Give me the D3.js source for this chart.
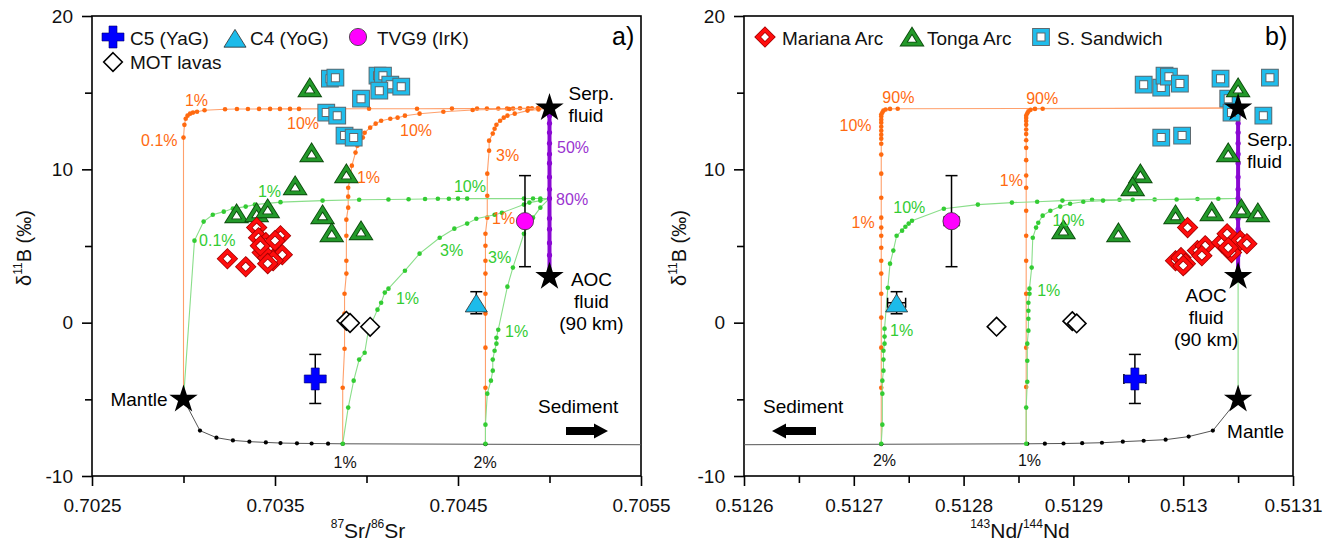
<!DOCTYPE html>
<html>
<head>
<meta charset="utf-8">
<title>δ11B versus 87Sr/86Sr and 143Nd/144Nd</title>
<script src="https://cdn.jsdelivr.net/npm/d3@7/dist/d3.min.js"></script>
<style>
  html, body { margin: 0; padding: 0; background: #fff; }
  svg { display: block; }
</style>
</head>
<body>
<svg id="fig" width="1335" height="543"></svg>
<script>
// ---------- Axis ticks ----------
const b11Domain = [-10, 20];
const yMajor = [-10, 0, 10, 20];
const yMajorLabels = ["-10", "0", "10", "20"];
const yMinor = [-5, 5, 15];
const srDomain = [0.7025, 0.7055];
const srMajor = [0.7025, 0.7035, 0.7045, 0.7055];
const srMajorLabels = ["0.7025", "0.7035", "0.7045", "0.7055"];
const srMinor = [0.7030, 0.7040, 0.7050];
const ndDomain = [0.5126, 0.5131];
const ndMajor = [0.5126, 0.5127, 0.5128, 0.5129, 0.5130, 0.5131];
const ndMajorLabels = ["0.5126", "0.5127", "0.5128", "0.5129", "0.513", "0.5131"];
const ndMinor = [0.51265, 0.51275, 0.51285, 0.51295, 0.51305];

// ---------- End-members [ratio, δ11B] ----------
const srMantle = [0.7030, -5], srSerp = [0.7050, 14], srAoc = [0.7050, 3];
const ndMantle = [0.51305, -5], ndSerp = [0.51305, 14], ndAoc = [0.51305, 3];
// δ11B steps along the serpentinite fluid – AOC fluid mixing line
const fluidMixB11 = [14, 13.5, 13.0, 12.4, 11.7, 11.0, 10.4, 9.5, 8.7, 8.1, 6.8, 6.1, 5.2, 4.4, 3];

// ---------- Mixing curves, Sr panel ----------
const srSediment = [[0.7030,-5],[0.70309,-7.04],[0.70318,-7.5],[0.70327,-7.68],[0.70336,-7.76],[0.70345,-7.81],[0.70353,-7.85],[0.70362,-7.87],[0.7037,-7.88],[0.70379,-7.89],[0.70387,-7.9],[0.70465,-7.93],[0.7055,-7.96]];
const srSerpMantle = [[0.7030,-5],[0.7030,12.07],[0.703005,12.9],[0.703012,13.3],[0.703022,13.5],[0.703036,13.63],[0.703052,13.7],[0.703074,13.76],[0.703115,13.85],[0.703227,13.92],[0.703292,13.93],[0.703352,13.93],[0.703413,13.94],[0.703473,13.94],[0.703527,13.94],[0.703582,13.94],[0.703631,13.94],[0.704014,13.95],[0.704276,13.95],[0.704467,13.96],[0.704604,13.96],[0.704658,13.96],[0.70472,13.97],[0.704768,13.97],[0.704801,13.97],[0.704839,13.98],[0.704883,13.98],[0.704904,13.98],[0.704937,13.99],[0.7050,14]];
const srSerpSed1 = [[0.70387,-7.9],[0.70387,-4.24],[0.70388,-1.70],[0.70388,0.59],[0.70388,1.89],[0.70389,3.20],[0.70389,4.04],[0.70389,5.67],[0.70389,6.72],[0.7039,7.50],[0.7039,8.22],[0.7039,8.80],[0.70391,9.39],[0.70392,10.24],[0.70394,11.09],[0.70395,11.54],[0.70398,12.07],[0.70399,12.39],[0.70402,12.72],[0.70405,12.98],[0.70408,13.17],[0.70413,13.30],[0.70417,13.37],[0.70421,13.50],[0.70429,13.63],[0.70442,13.76],[0.70458,13.87],[0.70478,13.93],[0.7050,14]];
const srSerpSed2 = [[0.70465,-7.9],[0.70465,-4.24],[0.70465,-1.63],[0.70465,0.59],[0.70465,1.89],[0.70465,3.20],[0.70465,4.04],[0.70465,5.02],[0.70465,5.80],[0.70466,6.85],[0.70466,8.28],[0.70466,9.72],[0.70467,11.22],[0.70467,11.87],[0.70469,12.33],[0.7047,12.65],[0.70471,12.91],[0.70473,13.17],[0.70475,13.37],[0.70477,13.5],[0.70481,13.63],[0.70488,13.83],[0.70494,13.9],[0.7050,14]];
const srAocMantle = [[0.7030,-5],[0.70306,5.35],[0.70311,6.59],[0.70316,7.04],[0.70322,7.24],[0.70327,7.44],[0.70334,7.57],[0.70339,7.7],[0.70353,7.86],[0.70376,7.96],[0.70396,8.02],[0.70412,8.03],[0.70423,8.05],[0.70432,8.07],[0.70439,8.08],[0.70445,8.08],[0.7045,8.09],[0.70455,8.09],[0.70486,8.09],[0.70491,8.1],[0.70495,8.1],[0.7050,8.1]];
const srAocSed1 = [[0.70387,-7.9],[0.7039,-5.54],[0.70393,-3.78],[0.70396,-2.41],[0.70399,-1.96],[0.70401,-0.52],[0.70406,0.85],[0.70408,1.3],[0.7041,1.96],[0.70412,2.22],[0.70421,3.39],[0.70429,4.5],[0.7044,5.54],[0.70448,6.13],[0.70455,6.46],[0.7046,6.78],[0.7047,7.04],[0.70474,7.17],[0.70486,7.70],[0.70489,7.83],[0.70495,7.96],[0.7050,8.1]];
const srAocSed2 = [[0.70465,-7.9],[0.70465,-6.65],[0.70466,-4.63],[0.70468,-3.78],[0.70469,-3.13],[0.70469,-2.41],[0.7047,-1.83],[0.70471,-1.37],[0.70471,-0.98],[0.70472,-0.46],[0.70477,2.35],[0.7048,3.59],[0.70486,5.80],[0.70491,6.85],[0.70495,7.5],[0.7050,8.1]];

// ---------- Mixing curves, Nd panel ----------
const ndSediment = [[0.51305,-5],[0.513027,-7.04],[0.513005,-7.43],[0.512984,-7.63],[0.512964,-7.70],[0.512945,-7.76],[0.512926,-7.83],[0.512908,-7.86],[0.512891,-7.88],[0.512874,-7.89],[0.512858,-7.9],[0.512725,-7.93],[0.5126,-7.96]];
const ndSerpSed2 = [[0.512725,-7.9],[0.512725,-4.24],[0.512725,-1.63],[0.512725,0.33],[0.512725,1.89],[0.512725,3.2],[0.512725,4.04],[0.512725,4.89],[0.512725,5.67],[0.512725,6.2],[0.512725,6.85],[0.512725,8.15],[0.512725,9.72],[0.512725,10.96],[0.512725,11.67],[0.512725,12.0],[0.512725,12.26],[0.512725,12.52],[0.512725,12.78],[0.512725,13.04],[0.512725,13.24],[0.512725,13.44],[0.512725,13.57],[0.512726,13.7],[0.512727,13.83],[0.512729,13.9],[0.512733,13.94],[0.51274,13.95],[0.51305,14]];
const ndSerpSed1 = [[0.512857,-7.9],[0.512857,-4.2],[0.512857,-1.63],[0.512857,1.89],[0.512857,4.04],[0.512857,5.67],[0.512857,7.3],[0.512857,8.8],[0.512857,9.6],[0.512857,10.6],[0.512857,11.4],[0.512857,11.9],[0.512857,12.3],[0.512857,12.6],[0.512857,12.9],[0.512857,13.15],[0.512857,13.35],[0.512857,13.5],[0.512858,13.65],[0.512859,13.78],[0.512861,13.88],[0.512865,13.94],[0.512872,13.95],[0.51305,14]];
const ndAocMantle = [[0.51305,-5],[0.51305,8.1]];
const ndAocSed2 = [[0.512725,-7.9],[0.512726,-6.65],[0.512726,-4.63],[0.512726,-3.78],[0.512727,-3.13],[0.512727,-2.41],[0.512727,-1.83],[0.512728,-1.37],[0.512728,-0.91],[0.512728,-0.39],[0.512731,2.28],[0.512733,3.85],[0.512736,4.7],[0.512739,5.67],[0.512744,6.0],[0.512747,6.26],[0.51275,6.46],[0.512753,6.65],[0.512782,7.43],[0.512813,7.7],[0.512844,7.83],[0.512867,7.89],[0.51289,7.96],[0.512917,8.02],[0.512942,8.02],[0.512974,8.03],[0.513013,8.07],[0.51305,8.1]];
const ndAocSed1 = [[0.512857,-7.9],[0.512857,-5.54],[0.512858,-3.85],[0.512858,-2.48],[0.512858,-1.37],[0.512859,-0.52],[0.512859,0.26],[0.512859,0.78],[0.512859,1.3],[0.51286,1.89],[0.51286,2.22],[0.512862,3.59],[0.512863,5.54],[0.512866,6.2],[0.512868,6.52],[0.512872,6.98],[0.512879,7.3],[0.512888,7.57],[0.512897,7.76],[0.512909,7.89],[0.512927,7.96],[0.512954,8.02],[0.512994,8.03],[0.513032,8.08],[0.51305,8.1]];

// ---------- Mixing fraction labels [text, ratio, δ11B] ----------
const srOrangeLabels = [["1%",0.703008,14.48],["0.1%",0.702768,11.87],["10%",0.703566,12.98],["10%",0.704183,12.52],["1%",0.703948,9.46],["3%",0.704708,10.89],["1%",0.704686,6.78]];
const srGreenLabels = [["1%",0.703407,8.54],["0.1%",0.703085,5.35],["10%",0.704478,8.93],["3%",0.704402,4.70],["1%",0.704161,1.57],["3%",0.704664,4.24],["1%",0.704757,-0.59]];
const srPurpleLabels = [["50%",0.705041,11.41],["80%",0.705036,8.02]];
const srSedLabels = [["1%",0.703883,-9.13],["2%",0.704648,-9.13]];
const ndOrangeLabels = [["90%",0.512726,14.67],["10%",0.512687,12.85],["1%",0.512698,6.52],["90%",0.512857,14.61],["1%",0.512833,9.26]];
const ndGreenLabels = [["10%",0.512736,7.5],["1%",0.512733,-0.52],["10%",0.512881,6.65],["1%",0.512867,2.09]];
const ndSedLabels = [["2%",0.512728,-9.0],["1%",0.51286,-9.0]];

// ---------- Samples [ratio, δ11B] ----------
const tongaSr = [[0.70369,15.26],[0.70370,11.02],[0.70361,8.87],[0.70389,9.65],[0.70329,7.04],[0.70340,7.11],[0.70346,7.37],[0.70376,6.98],[0.70381,5.80],[0.70397,5.93]];
const marianaSr = [[0.70324,4.17],[0.70334,3.65],[0.70340,6.20],[0.70341,5.54],[0.70353,5.67],[0.70345,5.22],[0.70347,4.89],[0.70354,4.43],[0.70343,4.57],[0.70346,4.24],[0.70349,4.04],[0.70346,3.85],[0.70342,5.02],[0.70350,5.35]];
const sandwichSr = [[0.70380,15.91],[0.70383,15.98],[0.70406,16.11],[0.70409,16.11],[0.70413,15.52],[0.70419,15.39],[0.70407,15.13],[0.70397,14.61],[0.70378,13.70],[0.70384,13.50],[0.70388,12.20],[0.70393,12.07]];
const motSr = [[0.70389,0.12],[0.70391,-0.02],[0.70402,-0.27]];
const tongaNd = [[0.51305,15.26],[0.513041,11.02],[0.512961,9.65],[0.512954,8.80],[0.512993,6.98],[0.513026,7.17],[0.513053,7.37],[0.513068,7.11],[0.512891,6.0],[0.512941,5.80]];
const marianaNd = [[0.513004,6.2],[0.512993,4.04],[0.512998,4.24],[0.513002,3.85],[0.513013,4.70],[0.51302,5.02],[0.513017,4.37],[0.513035,5.22],[0.51304,5.80],[0.513044,4.57],[0.513052,5.35],[0.513058,5.15],[0.513041,4.89],[0.513,3.72]];
const sandwichNd = [[0.512964,15.52],[0.51298,15.33],[0.512983,16.11],[0.512987,16.04],[0.512997,15.59],[0.513034,15.91],[0.513041,14.61],[0.513044,13.70],[0.513073,13.50],[0.513079,15.98],[0.51298,12.07],[0.512999,12.20]];
const motNd = [[0.51283,-0.26],[0.512899,0.1],[0.512903,-0.05]];

// Guatemalan samples: [87Sr/86Sr, 143Nd/144Nd, δ11B] and errors [Sr, Nd, δ11B]
const c5Point = [0.70372, 0.512956, -3.67], c5Err = [0, 0.000010, 1.6];
const c4Point = [0.70460, 0.512739, 1.3], c4Err = [0, 0.0000082, 0.72];
const tvg9Point = [0.704866, 0.512789, 6.62], tvg9Err = [0, 0.0000067, 2.97];

// ---------- Drawing ----------
const FONT = 'Arial, "Liberation Sans", Helvetica, sans-serif';
const ORANGE_LINE = "#ffa06c", ORANGE = "#ff6a10";
const GREEN_LINE = "#8ade8a", GREEN = "#33cc33";
const PURPLE = "#8a08d2", PURPLE_TXT = "#9a33d0";
const svg = d3.select("#fig").style("font-family", FONT);
const plotTop = 16, plotBottom = 476;

function makePanel(domain, range, major, majorLabels, minor) {
  const x = d3.scaleLinear().domain(domain).range(range);
  const y = d3.scaleLinear().domain(b11Domain).range([plotBottom, plotTop]);
  const g = svg.append("g");
  const axes = g.append("g");
  axes.append("g").attr("transform", `translate(0,${plotBottom})`)
    .call(d3.axisBottom(x).tickValues(major).tickSize(10).tickSizeOuter(0).tickPadding(13)
      .tickFormat((d, i) => majorLabels[i]));
  axes.append("g").attr("transform", `translate(0,${plotBottom})`)
    .call(d3.axisBottom(x).tickValues(minor).tickSize(7).tickSizeOuter(0).tickFormat(""));
  axes.append("g").attr("transform", `translate(${range[0]},0)`)
    .call(d3.axisLeft(y).tickValues(yMajor).tickSize(10).tickSizeOuter(0).tickPadding(9)
      .tickFormat((d, i) => yMajorLabels[i]));
  axes.append("g").attr("transform", `translate(${range[0]},0)`)
    .call(d3.axisLeft(y).tickValues(yMinor).tickSize(7).tickSizeOuter(0).tickFormat(""));
  axes.selectAll(".domain").remove();
  axes.selectAll(".tick line").attr("stroke", "#000").attr("stroke-width", 1.6);
  axes.selectAll(".tick text").attr("font-size", 19).attr("font-family", FONT).attr("fill", "#111");
  g.append("rect").attr("x", range[0]).attr("y", plotTop)
    .attr("width", range[1] - range[0]).attr("height", plotBottom - plotTop)
    .attr("fill", "none").attr("stroke", "#000").attr("stroke-width", 1.6);
  const plot = g.append("g");
  return { g, plot, x, y };
}

function curve(p, pts, lineColor, dotColor, firstDot, lastDot, r = 2.3, width = 1.1) {
  const line = d3.line().x(d => p.x(d[0])).y(d => p.y(d[1]));
  p.plot.append("path").datum(pts).attr("d", line)
    .attr("fill", "none").attr("stroke", lineColor).attr("stroke-width", width);
  const dots = pts.slice(firstDot ? 0 : 1, lastDot ? pts.length : pts.length - 1);
  p.plot.append("g").selectAll("circle").data(dots).join("circle")
    .attr("cx", d => p.x(d[0])).attr("cy", d => p.y(d[1])).attr("r", r).attr("fill", dotColor);
}

const shape = {
  tri: s => `M0,${-s}L${1.15 * s},${0.85 * s}L${-1.15 * s},${0.85 * s}Z`,
  diamond: s => `M0,${-s}L${s},0L0,${s}L${-s},0Z`,
  square: s => `M${-s},${-s}H${s}V${s}H${-s}Z`,
  cross: (a, b) => `M${-b},${-a}H${b}V${-b}H${a}V${b}H${b}V${a}H${-b}V${b}H${-a}V${-b}H${-b}Z`
};

// Layered outline markers (dark rim + coloured stroke + white fill)
function outlined(sel, d, rim, col, wRim, wCol) {
  sel.append("path").attr("d", d).attr("fill", "#fff").attr("stroke", rim).attr("stroke-width", wRim).attr("stroke-linejoin", "miter");
  sel.append("path").attr("d", d).attr("fill", "none").attr("stroke", col).attr("stroke-width", wCol).attr("stroke-linejoin", "miter");
}
const marker = {
  tonga: sel => outlined(sel, shape.tri(7.2), "#0c4a0c", "#23992a", 4.8, 3.0),
  mariana: sel => outlined(sel, shape.diamond(7.4), "#a00000", "#ff0d0d", 4.8, 3.3),
  sandwich: sel => outlined(sel, shape.square(6.2), "#5d6a70", "#1fbdec", 5.4, 3.4),
  mot: sel => sel.append("path").attr("d", shape.diamond(9.3)).attr("fill", "#fff").attr("stroke", "#000").attr("stroke-width", 1.6),
  c5: sel => sel.append("path").attr("d", shape.cross(11, 4)).attr("fill", "#0000ff").attr("stroke", "#00006a").attr("stroke-width", 0.6),
  c4: sel => sel.append("path").attr("d", shape.tri(9.6)).attr("transform", "translate(0,1)").attr("fill", "#1cbbea").attr("stroke", "#2a2a2a").attr("stroke-width", 0.8),
  tvg9: sel => sel.append("circle").attr("r", 8.6).attr("fill", "#ff00ff").attr("stroke", "#333").attr("stroke-width", 0.8),
  star: sel => sel.append("path").attr("d", d3.symbol(d3.symbolStar, 250)()).attr("fill", "#000")
};

function scatter(p, data, draw) {
  p.plot.append("g").selectAll("g").data(data).join("g")
    .attr("transform", d => `translate(${p.x(d[0])},${p.y(d[1])})`)
    .each(function () { draw(d3.select(this)); });
}

function errorBars(p, xv, yv, xe, ye) {
  const g = p.plot.append("g").attr("stroke", "#000").attr("stroke-width", 1.5);
  const cx = p.x(xv), cy = p.y(yv);
  if (ye) {
    const y0 = p.y(yv + ye), y1 = p.y(yv - ye);
    g.append("line").attr("x1", cx).attr("x2", cx).attr("y1", y0).attr("y2", y1);
    g.append("line").attr("x1", cx - 6).attr("x2", cx + 6).attr("y1", y0).attr("y2", y0);
    g.append("line").attr("x1", cx - 6).attr("x2", cx + 6).attr("y1", y1).attr("y2", y1);
  }
  if (xe) {
    const x0 = p.x(xv - xe), x1 = p.x(xv + xe);
    g.append("line").attr("x1", x0).attr("x2", x1).attr("y1", cy).attr("y2", cy);
    g.append("line").attr("x1", x0).attr("x2", x0).attr("y1", cy - 5).attr("y2", cy + 5);
    g.append("line").attr("x1", x1).attr("x2", x1).attr("y1", cy - 5).attr("y2", cy + 5);
  }
}

function labels(p, list, color, anchor = "start", size = 16) {
  p.plot.append("g").selectAll("text").data(list).join("text")
    .attr("x", d => p.x(d[1])).attr("y", d => p.y(d[2])).attr("dy", "0.36em")
    .attr("text-anchor", anchor).attr("font-size", size).attr("fill", color).text(d => d[0]);
}

function text(p, str, x, y, anchor = "start", size = 19) {
  p.plot.append("text").attr("x", x).attr("y", y).attr("text-anchor", anchor)
    .attr("font-size", size).attr("fill", "#000").text(str);
}

function arrow(p, xTail, xTip, yc) {
  const dir = Math.sign(xTip - xTail), neck = xTip - dir * 14;
  p.plot.append("path")
    .attr("d", `M${xTail},${yc - 4}L${neck},${yc - 4}L${neck},${yc - 7.5}L${xTip},${yc}L${neck},${yc + 7.5}L${neck},${yc + 4}L${xTail},${yc + 4}Z`)
    .attr("fill", "#000");
}

function yTitle(cx, cy) {
  const t = svg.append("text").attr("transform", `translate(${cx},${cy}) rotate(-90)`)
    .attr("text-anchor", "middle").attr("font-size", 20).attr("fill", "#111");
  t.append("tspan").text("δ");
  t.append("tspan").attr("font-size", 12).attr("dy", -9).text("11");
  t.append("tspan").attr("dy", 9).text("B (‰)");
}

function xTitle(cx, cy, a, b, c, d) {
  const t = svg.append("text").attr("x", cx).attr("y", cy).attr("text-anchor", "middle")
    .attr("font-size", 21).attr("fill", "#111");
  t.append("tspan").attr("font-size", 12).attr("dy", -10).text(a);
  t.append("tspan").attr("dy", 10).text(b);
  t.append("tspan").attr("font-size", 12).attr("dy", -10).text(c);
  t.append("tspan").attr("dy", 10).text(d);
}

// ================= Panel a: 87Sr/86Sr =================
const pa = makePanel(srDomain, [92, 641], srMajor, srMajorLabels, srMinor);
curve(pa, srSediment, "#555", "#000", false, false, 2.1, 1);
curve(pa, srSerpMantle, ORANGE_LINE, ORANGE, false, false);
curve(pa, srSerpSed1, ORANGE_LINE, ORANGE, false, false);
curve(pa, srSerpSed2, ORANGE_LINE, ORANGE, false, false);
curve(pa, srAocMantle, GREEN_LINE, GREEN, false, false);
curve(pa, srAocSed1, GREEN_LINE, GREEN, true, false);
curve(pa, srAocSed2, GREEN_LINE, GREEN, true, false);
curve(pa, fluidMixB11.map(v => [srSerp[0], v]), PURPLE, PURPLE, false, false, 2.6, 4);
scatter(pa, sandwichSr, marker.sandwich);
scatter(pa, tongaSr, marker.tonga);
scatter(pa, marianaSr, marker.mariana);
scatter(pa, motSr, marker.mot);
errorBars(pa, c5Point[0], c5Point[2], c5Err[0], c5Err[2]);
scatter(pa, [[c5Point[0], c5Point[2]]], marker.c5);
errorBars(pa, c4Point[0], c4Point[2], c4Err[0], c4Err[2]);
scatter(pa, [[c4Point[0], c4Point[2]]], marker.c4);
errorBars(pa, tvg9Point[0], tvg9Point[2], tvg9Err[0], tvg9Err[2]);
scatter(pa, [[tvg9Point[0], tvg9Point[2]]], marker.tvg9);
scatter(pa, [srMantle, srSerp, srAoc], marker.star);
labels(pa, srOrangeLabels, ORANGE);
labels(pa, srGreenLabels, GREEN);
labels(pa, srPurpleLabels, PURPLE_TXT);
labels(pa, srSedLabels, "#111", "middle");
{
  const mx = pa.x(srMantle[0]), my = pa.y(srMantle[1]);
  text(pa, "Mantle", mx - 16, my + 7, "end");
  const sx = pa.x(srSerp[0]), sy = pa.y(srSerp[1]);
  text(pa, "Serp.", sx + 19, sy - 8);
  text(pa, "fluid", sx + 19, sy + 14);
  const ax = pa.x(srAoc[0]), ay = pa.y(srAoc[1]);
  text(pa, "AOC", ax + 42, ay + 9, "middle");
  text(pa, "fluid", ax + 42, ay + 31, "middle");
  text(pa, "(90 km)", ax + 42, ay + 53, "middle");
  text(pa, "Sediment", 538, 413);
  arrow(pa, 566, 608, 431);
  text(pa, "a)", 612, 45, "start", 25);
}
// legend a
{
  const lg = svg.append("g");
  const put = (x, y, draw) => draw(lg.append("g").attr("transform", `translate(${x},${y})`));
  put(113, 37, marker.c5);
  put(235, 38, marker.c4);
  put(358, 37, marker.tvg9);
  put(113, 62, marker.mot);
  [["C5 (YaG)", 130, 45], ["C4 (YoG)", 250, 45], ["TVG9 (IrK)", 377, 45], ["MOT lavas", 130, 69]]
    .forEach(d => lg.append("text").attr("x", d[1]).attr("y", d[2]).attr("font-size", 19).attr("fill", "#111").text(d[0]));
}
yTitle(31, 248);
xTitle(368, 538, "87", "Sr/", "86", "Sr");

// ================= Panel b: 143Nd/144Nd =================
const pb = makePanel(ndDomain, [744, 1293], ndMajor, ndMajorLabels, ndMinor);
curve(pb, ndSediment, "#555", "#000", false, false, 2.1, 1);
curve(pb, ndSerpSed2, ORANGE_LINE, ORANGE, false, false);
curve(pb, ndSerpSed1, ORANGE_LINE, ORANGE, false, false);
curve(pb, ndAocMantle, GREEN_LINE, GREEN, false, false);
curve(pb, ndAocSed2, GREEN_LINE, GREEN, true, false);
curve(pb, ndAocSed1, GREEN_LINE, GREEN, true, false);
curve(pb, fluidMixB11.map(v => [ndSerp[0], v]), PURPLE, PURPLE, false, false, 2.6, 4);
scatter(pb, sandwichNd, marker.sandwich);
scatter(pb, tongaNd, marker.tonga);
scatter(pb, marianaNd, marker.mariana);
scatter(pb, motNd, marker.mot);
errorBars(pb, c5Point[1], c5Point[2], c5Err[1], c5Err[2]);
scatter(pb, [[c5Point[1], c5Point[2]]], marker.c5);
errorBars(pb, c4Point[1], c4Point[2], c4Err[1], c4Err[2]);
scatter(pb, [[c4Point[1], c4Point[2]]], marker.c4);
errorBars(pb, tvg9Point[1], tvg9Point[2], tvg9Err[1], tvg9Err[2]);
scatter(pb, [[tvg9Point[1], tvg9Point[2]]], marker.tvg9);
scatter(pb, [ndMantle, ndSerp, ndAoc], marker.star);
labels(pb, ndOrangeLabels, ORANGE);
labels(pb, ndGreenLabels, GREEN);
labels(pb, ndSedLabels, "#111", "middle");
{
  const mx = pb.x(ndMantle[0]), my = pb.y(ndMantle[1]);
  text(pb, "Mantle", mx - 11, my + 39);
  const sx = pb.x(ndSerp[0]), sy = pb.y(ndSerp[1]);
  text(pb, "Serp.", sx + 9, sy + 38);
  text(pb, "fluid", sx + 9, sy + 60);
  const ax = pb.x(ndAoc[0]), ay = pb.y(ndAoc[1]);
  text(pb, "AOC", ax - 32, ay + 25, "middle");
  text(pb, "fluid", ax - 32, ay + 47, "middle");
  text(pb, "(90 km)", ax - 32, ay + 69, "middle");
  text(pb, "Sediment", 763, 413);
  arrow(pb, 816, 772, 431);
  text(pb, "b)", 1265, 45, "start", 25);
}
// legend b
{
  const lg = svg.append("g");
  const put = (x, y, draw) => draw(lg.append("g").attr("transform", `translate(${x},${y})`));
  put(765, 37, marker.mariana);
  put(912, 38, marker.tonga);
  put(1041, 37, marker.sandwich);
  [["Mariana Arc", 782, 45], ["Tonga Arc", 927, 45], ["S. Sandwich", 1057, 45]]
    .forEach(d => lg.append("text").attr("x", d[1]).attr("y", d[2]).attr("font-size", 19).attr("fill", "#111").text(d[0]));
}
yTitle(686, 248);
xTitle(1020, 538, "143", "Nd/", "144", "Nd");
</script>
</body>
</html>
